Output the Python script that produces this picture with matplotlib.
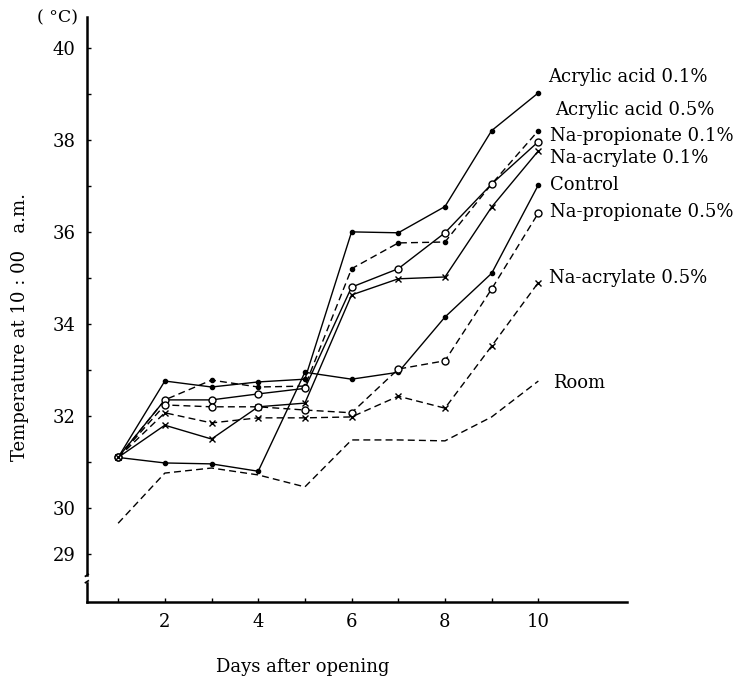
# Temperature at 10:00 a.m. after opening, per treatment
import numpy as np
import matplotlib.pyplot as plt

plt.rcParams['font.family'] = ['DejaVu Serif']

days = [1, 2, 3, 4, 5, 6, 7, 8, 9, 10]

acrylic_01 = [31.1, 32.76, 32.63, 32.74, 32.8, 36.0, 35.98, 36.55, 38.2, 39.02]
acrylic_05 = [31.1, 32.35, 32.78, 32.63, 32.65, 35.2, 35.76, 35.78, 37.04, 38.2]
naprop_01 = [31.1, 32.35, 32.35, 32.48, 32.6, 34.8, 35.2, 35.98, 37.04, 37.96]
naacr_01 = [31.1, 31.8, 31.5, 32.2, 32.28, 34.63, 34.98, 35.02, 36.54, 37.76]
control = [31.1, 30.98, 30.96, 30.8, 32.95, 32.8, 32.95, 34.15, 35.1, 37.02]
naprop_05 = [31.1, 32.24, 32.2, 32.2, 32.13, 32.07, 33.02, 33.2, 34.76, 36.41]
naacr_05 = [31.1, 32.07, 31.85, 31.96, 31.96, 31.98, 32.43, 32.17, 33.52, 34.9]
room = [29.67, 30.76, 30.87, 30.72, 30.46, 31.48, 31.48, 31.46, 31.98, 32.76]

names = ['Acrylic acid 0.1%', 'Acrylic acid 0.5%', 'Na-propionate 0.1%',
         'Na-acrylate 0.1%', 'Control', 'Na-propionate 0.5%',
         'Na-acrylate 0.5%', 'Room']
series = [acrylic_01, acrylic_05, naprop_01, naacr_01, control,
          naprop_05, naacr_05, room]

# style per series: (linestyle, marker, marker size, filled)
styles = [('-', 'o', 3, True), ('--', 'o', 3, True), ('-', 'o', 5, False),
          ('-', 'x', 5, False), ('-', 'o', 3, True), ('--', 'o', 5, False),
          ('--', 'x', 5, False), ('--', None, 0, False)]

# where the right-hand labels sit
label_x = [10.2, 10.35, 10.25, 10.25, 10.25, 10.25, 10.22, 10.31]
label_y = [39.37, 38.65, 38.09, 37.6, 37.02, 36.43, 35.0, 32.72]

fig = plt.figure(figsize=(7.36, 6.76), dpi=100)
ax = fig.add_axes([0.118, 0.1095, 0.734, 0.8655])

for vals, (ls, mk, ms, filled) in zip(series, styles):
    ax.plot(days, vals, color='black', linestyle=ls, linewidth=1.0,
            dashes=(5, 3) if ls == '--' else (None, None),
            marker=mk, markersize=ms, markeredgewidth=1.0,
            markerfacecolor='black' if filled else 'white',
            markeredgecolor='black')

for name, lx, ly in zip(names, label_x, label_y):
    ax.text(lx, ly, name, fontsize=13, va='center', ha='left')

ax.set_xlim(0.33, 11.9)
ax.set_ylim(27.96, 40.67)

ax.set_xticks(days)
ax.set_xticklabels([str(d) if d % 2 == 0 else '' for d in days])
yt = np.arange(29, 41)
ax.set_yticks(yt)
ax.set_yticklabels([str(v) if v in (29, 30, 32, 34, 36, 38, 40) else '' for v in yt])
ax.tick_params(direction='in', length=3, width=1, labelsize=13, pad=8)

for s in ['top', 'right']:
    ax.spines[s].set_visible(False)
ax.spines['left'].set_linewidth(1.8)
ax.spines['bottom'].set_linewidth(1.8)
ax.spines['left'].set_bounds(28.55, 40.67)

# axis break on the y axis
ax.plot([0.33, 0.33], [27.96, 28.38], color='black', linewidth=1.8, clip_on=False)
ax.plot([0.30, 0.36], [28.38, 28.42], color='black', linewidth=1.2, clip_on=False)
ax.plot([0.30, 0.36], [28.52, 28.56], color='black', linewidth=1.2, clip_on=False)

ax.set_xlabel('Days after opening', fontsize=13)
ax.xaxis.set_label_coords(0.40, -0.095)
ax.set_ylabel('Temperature at 10 : 00   a.m.', fontsize=13)
ax.yaxis.set_label_coords(-0.108, 0.47)
fig.text(0.078, 0.973, '( °C)', fontsize=12.5, ha='center', va='center')

fig.savefig('out.png', dpi=100)
